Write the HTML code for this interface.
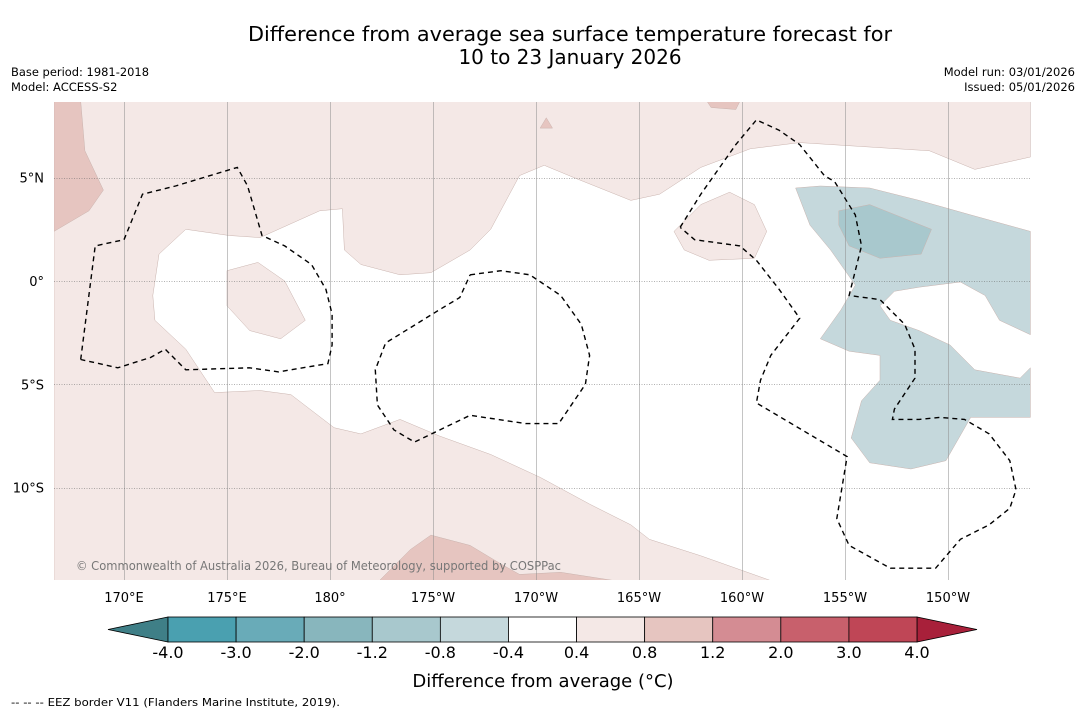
<!DOCTYPE html>
<html><head><meta charset="utf-8">
<style>
body{margin:0;background:#fff;}
svg text{font-family:"DejaVu Sans","Liberation Sans",sans-serif;}
</style></head>
<body>
<svg id="chart" width="1085" height="713" viewBox="0 0 1085 713" xmlns="http://www.w3.org/2000/svg">
<rect width="1085" height="713" fill="#fff"/>
<text x="570" y="41" font-size="20" text-anchor="middle" textLength="644" lengthAdjust="spacingAndGlyphs" fill="#000">Difference from average sea surface temperature forecast for</text>
<text x="570" y="64" font-size="20" text-anchor="middle" fill="#000">10 to 23 January 2026</text>
<text x="11" y="76" font-size="11.5" textLength="138" lengthAdjust="spacingAndGlyphs">Base period: 1981-2018</text>
<text x="11" y="91" font-size="11.5">Model: ACCESS-S2</text>
<text x="1075" y="76" font-size="11.5" text-anchor="end">Model run: 03/01/2026</text>
<text x="1075" y="91" font-size="11.5" text-anchor="end">Issued: 05/01/2026</text>
<defs><clipPath id="mapclip"><rect x="54" y="102" width="977" height="478"/></clipPath></defs>
<g id="map" clip-path="url(#mapclip)"></g>
<g id="axes"></g>
<text x="76" y="570" font-size="12" fill="#777" textLength="485" lengthAdjust="spacingAndGlyphs">© Commonwealth of Australia 2026, Bureau of Meteorology, supported by COSPPac</text>
<g id="cbar"></g>
<text x="543" y="687" font-size="18" text-anchor="middle">Difference from average (°C)</text>
<text x="11" y="706" font-size="11" textLength="329" lengthAdjust="spacingAndGlyphs">--  --  -- EEZ border V11 (Flanders Marine Institute, 2019).</text>
</svg>
<script>
const lonTicks=[170,175,180,185,190,195,200,205,210];
const lonLabels=["170°E","175°E","180°","175°W","170°W","165°W","160°W","155°W","150°W"];
const latTicks=[5,0,-5,-10];
const latLabels=["5°N","0°","5°S","10°S"];
const cbLevels=[-4.0,-3.0,-2.0,-1.2,-0.8,-0.4,0.4,0.8,1.2,2.0,3.0,4.0];
const cbLabels=["-4.0","-3.0","-2.0","-1.2","-0.8","-0.4","0.4","0.8","1.2","2.0","3.0","4.0"];
const cbColors=["#4aa0b0","#69abb8","#88b6bd","#a8c8cd","#c5d8dc","#ffffff","#f4e8e6","#e6c5c0","#d48c93","#c8606c","#bf4656"];
const cbLow="#3f7f87", cbHigh="#a8203a";

const pinkTop=[[166.6,8.7],[214.0,8.7],[214.0,6.0],[211.3,5.4],[209.1,6.3],[202.8,6.7],[200.4,6.4],[198.0,5.5],[196.0,4.2],[194.6,3.9],[192.1,4.9],[190.4,5.6],[189.2,5.1],[187.8,2.5],[186.8,1.5],[184.9,0.4],[183.4,0.3],[181.5,0.8],[180.7,1.5],[180.6,3.5],[179.5,3.4],[176.6,2.1],[175.1,2.2],[173.0,2.5],[171.7,1.3],[171.4,-0.7],[171.5,-1.9],[173.0,-3.3],[174.4,-5.4],[176.6,-5.3],[178.1,-5.5],[180.2,-7.1],[181.5,-7.4],[183.4,-6.7],[185.3,-7.5],[187.8,-8.4],[190.2,-9.5],[192.6,-10.8],[194.6,-11.8],[195.5,-12.5],[198.0,-13.3],[201.4,-14.5],[166.6,-14.5]];
const darkLeft=[[166.6,8.7],[167.9,8.7],[168.1,6.3],[169.0,4.4],[168.3,3.4],[166.6,2.4]];
const darkBottom=[[182.4,-14.5],[183.9,-13.0],[184.9,-12.3],[186.8,-12.8],[188.3,-13.7],[189.2,-14.2],[191.2,-14.1],[193.8,-14.5]];
const pinkIsland1=[[175.0,0.5],[176.5,0.9],[177.8,0.0],[178.8,-1.9],[177.6,-2.8],[176.1,-2.4],[175.0,-1.2]];
const pinkIsland2=[[196.7,2.4],[198.0,3.7],[199.4,4.3],[200.6,3.7],[201.2,2.4],[200.6,1.1],[198.4,1.0],[197.2,1.5]];
const darkTopBit=[[198.3,8.7],[199.9,8.7],[199.7,8.3],[198.5,8.4]];
const pinkTopBit=[[190.2,7.4],[190.5,7.9],[190.8,7.4]];
const blueRegion=[[202.6,4.5],[203.8,4.6],[206.2,4.5],[208.6,3.9],[211.1,3.2],[214.0,2.4],[214.0,-2.6],[212.5,-1.9],[211.8,-0.7],[210.6,-0.05],[208.6,-0.3],[207.4,-0.5],[206.7,-1.2],[207.2,-1.9],[208.6,-2.4],[210.1,-3.1],[211.3,-4.3],[213.5,-4.7],[214.0,-4.2],[214.0,-6.6],[211.1,-6.6],[209.9,-8.7],[208.2,-9.1],[206.2,-8.8],[205.3,-7.6],[205.8,-5.8],[206.7,-4.8],[206.7,-3.6],[205.2,-3.4],[203.8,-2.8],[204.8,-1.4],[205.5,-0.2],[204.3,1.5],[203.3,2.7]];
const blueCore=[[204.7,3.4],[206.2,3.7],[209.2,2.5],[208.7,1.3],[206.7,1.1],[205.2,1.7],[204.7,2.7]];
const eezA=[[167.9,-3.8],[168.6,1.7],[170.0,2.0],[170.9,4.2],[172.5,4.6],[175.5,5.5],[176.0,4.6],[176.7,2.2],[177.8,1.7],[179.1,0.8],[179.8,-0.4],[180.1,-1.6],[180.1,-3.1],[179.9,-4.0],[177.5,-4.4],[176.1,-4.2],[173.0,-4.3],[172.0,-3.3],[171.3,-3.7],[169.7,-4.2],[167.9,-3.8]];
const eezB=[[186.8,0.3],[188.3,0.5],[189.7,0.3],[191.2,-0.7],[192.2,-2.1],[192.6,-3.6],[192.4,-5.0],[191.1,-6.9],[189.5,-6.9],[186.8,-6.5],[184.1,-7.8],[183.1,-7.2],[182.3,-6.0],[182.2,-4.3],[182.7,-3.0],[185.3,-1.4],[186.3,-0.8],[186.8,0.3]];
const eezC=[[197.0,2.6],[198.0,4.2],[199.7,6.6],[200.7,7.8],[201.8,7.3],[202.8,6.6],[204.0,5.1],[204.5,4.8],[205.5,3.2],[205.8,1.7],[205.2,-0.7],[206.7,-0.9],[207.9,-2.1],[208.4,-3.3],[208.4,-4.7],[207.4,-6.2],[207.3,-6.7],[208.6,-6.7],[209.6,-6.6],[210.8,-6.7],[212.0,-7.4],[213.0,-8.7],[213.3,-10.1],[213.0,-11.0],[212.0,-11.8],[210.6,-12.5],[209.4,-13.9],[207.2,-13.9],[205.2,-12.8],[204.6,-11.5],[205.1,-8.5],[200.7,-5.9],[200.9,-4.8],[201.4,-3.6],[202.8,-1.8],[201.8,-0.4],[200.7,1.0],[199.9,1.7],[197.7,2.0],[197.0,2.6]];

const NS="http://www.w3.org/2000/svg";
const X=lon=>124+(lon-170)*20.6;
const Y=lat=>281-lat*20.66;
function mk(tag,parent,attrs){const e=document.createElementNS(NS,tag);for(const k in attrs)e.setAttribute(k,attrs[k]);parent.appendChild(e);return e;}
const pts=a=>a.map(p=>X(p[0]).toFixed(1)+","+Y(p[1]).toFixed(1)).join(" ");
const map=document.getElementById("map");
function poly(arr,fill,name){
  const e=mk("polygon",map,{points:pts(arr),fill:fill,stroke:"#c9b3ae","stroke-width":"0.5"});
  
  
}
poly(pinkTop,"#f4e8e6","anomaly-0.4-0.8-north-south");
poly(darkLeft,"#e6c5c0","anomaly-0.8-1.2-west");
poly(darkBottom,"#e6c5c0","anomaly-0.8-1.2-south");
poly(pinkIsland1,"#f4e8e6","anomaly-0.4-0.8-patch-west");
poly(pinkIsland2,"#f4e8e6","anomaly-0.4-0.8-patch-east");
poly(darkTopBit,"#e6c5c0","anomaly-0.8-1.2-top");
poly(pinkTopBit,"#e6c5c0","anomaly-0.8-1.2-speck");
poly(blueRegion,"#c5d8dc","anomaly-neg-0.4-0.8-east");
poly(blueCore,"#a8c8cd","anomaly-neg-0.8-1.2-core");
const axes=document.getElementById("axes");
lonTicks.forEach((lon,i)=>{
  const gx=Math.round(X(lon))+0.5;
  const l=mk("line",map,{x1:gx,x2:gx,y1:102,y2:580,stroke:"#8a8a8a","stroke-width":"0.5"});
  
  
  const t=mk("text",axes,{x:X(lon),y:602,"font-size":"13","text-anchor":"middle"});
  t.textContent=lonLabels[i];
  
  
});
latTicks.forEach((lat,i)=>{
  const gy=Math.round(Y(lat))+0.5;
  const l=mk("line",map,{x1:54,x2:1031,y1:gy,y2:gy,stroke:"#666","stroke-width":"0.6","stroke-dasharray":"1,1.5"});
  
  
  const t=mk("text",axes,{x:44,y:Y(lat)+5,"font-size":"13","text-anchor":"end"});
  t.textContent=latLabels[i];
  
  
});
[eezA,eezB,eezC].forEach(arr=>{
  const e=mk("polyline",map,{points:pts(arr),fill:"none",stroke:"#000","stroke-width":"1.4","stroke-dasharray":"5,4"});
  
  
});
const cb=document.getElementById("cbar");
const cx0=168,cx1=917,cy=617,ch=25;
const CB=v=>{const i=cbLevels.findIndex(x=>x>=v);return i<=0?cx0:cx0+(i-1+(v-cbLevels[i-1])/(cbLevels[i]-cbLevels[i-1]))*(cx1-cx0)/(cbLevels.length-1);};
const lt=mk("polygon",cb,{points:`108,${cy+ch/2} ${cx0},${cy} ${cx0},${cy+ch}`,fill:cbLow,stroke:"#000","stroke-width":"0.8"});


const rt=mk("polygon",cb,{points:`977,${cy+ch/2} ${cx1},${cy} ${cx1},${cy+ch}`,fill:cbHigh,stroke:"#000","stroke-width":"0.8"});


cbColors.forEach((c,i)=>{
  const x0=CB(cbLevels[i]),x1=CB(cbLevels[i+1]);
  const r=mk("rect",cb,{x:x0,y:cy,width:x1-x0,height:ch,fill:c,stroke:"#000","stroke-width":"0.8"});
  
  
});
cbLevels.forEach((v,i)=>{
  const t=mk("text",cb,{x:CB(v),y:658,"font-size":"16","text-anchor":"middle"});
  t.textContent=cbLabels[i];
  
  
});
</script>
</body></html>
